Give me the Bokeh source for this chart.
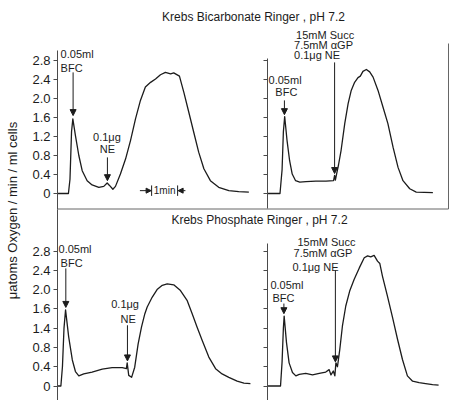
import math

from bokeh.plotting import figure
from bokeh.models import Range1d, LinearAxis, FixedTicker, Label, Arrow, NormalHead
from bokeh.embed import file_html
from bokeh.resources import INLINE

# ---- oxygen-uptake traces (time in min from start of each trace, rate in uatoms O2/min/ml cells)
# Krebs bicarbonate Ringer: BFC, then NE alone
bicarb_a_t = [0, 0.42, 0.48, 0.54, 0.59, 0.69, 0.82, 0.95, 1.14, 1.33, 1.59, 1.78, 1.91, 2.0,
              2.13, 2.23, 2.42, 2.62, 2.81, 3.0, 3.19, 3.38, 3.58, 3.77, 3.96, 4.15, 4.35, 4.47,
              4.69, 4.86, 5.05, 5.24, 5.43, 5.63, 5.88, 6.2, 6.59, 6.97, 7.36]
bicarb_a_v = [0, 0, 0.3, 1.3, 1.57, 1.22, 0.8, 0.48, 0.27, 0.18, 0.13, 0.15, 0.22, 0.17,
              0.09, 0.15, 0.41, 0.73, 1.12, 1.57, 1.96, 2.24, 2.34, 2.41, 2.5, 2.55, 2.52, 2.54,
              2.47, 2.13, 1.71, 1.29, 0.87, 0.52, 0.27, 0.13, 0.06, 0.04, 0.03]
# Krebs bicarbonate Ringer: BFC, then succinate + aGP + NE
bicarb_b_t = [0.02, 0.5, 0.58, 0.63, 0.68, 0.77, 0.87, 0.97, 1.1, 1.26, 1.5, 1.88, 2.27, 2.56,
              2.6, 2.63, 2.68, 2.75, 2.85, 2.99, 3.12, 3.24, 3.37, 3.5, 3.59, 3.69, 3.82, 3.95,
              4.08, 4.27, 4.46, 4.65, 4.85, 5.04, 5.23, 5.49, 5.74, 6.38]
bicarb_b_v = [0, 0, 0.5, 1.3, 1.62, 1.12, 0.69, 0.41, 0.27, 0.24, 0.25, 0.26, 0.26, 0.27,
              0.38, 0.28, 0.42, 0.6, 0.91, 1.47, 1.89, 2.17, 2.34, 2.44, 2.47, 2.57, 2.61, 2.56,
              2.45, 2.17, 1.82, 1.47, 0.97, 0.55, 0.27, 0.1, 0.03, 0.02]
# Krebs phosphate Ringer: BFC, then NE alone
phos_a_t = [0, 0.13, 0.19, 0.25, 0.31, 0.43, 0.57, 0.69, 0.82, 1.01, 1.33, 1.72, 2.1, 2.49,
            2.65, 2.68, 2.74, 2.85, 2.97, 3.1, 3.23, 3.36, 3.45, 3.64, 3.83, 4.03, 4.22, 4.47,
            4.73, 4.99, 5.18, 5.37, 5.57, 5.82, 6.08, 6.33, 6.59, 6.91, 7.17, 7.42]
phos_a_v = [0, 0, 0.4, 1.2, 1.58, 1.02, 0.54, 0.3, 0.21, 0.25, 0.29, 0.35, 0.38, 0.38,
            0.36, 0.48, 0.22, 0.18, 0.39, 0.87, 1.22, 1.5, 1.64, 1.84, 2.0, 2.09, 2.12, 2.1,
            1.98, 1.77, 1.5, 1.22, 0.94, 0.6, 0.36, 0.25, 0.18, 0.1, 0.06, 0.05]
# Krebs phosphate Ringer: BFC, then succinate + aGP + NE
phos_b_t = [0.02, 0.52, 0.58, 0.63, 0.66, 0.75, 0.85, 0.98, 1.11, 1.24, 1.49, 1.75, 2.01, 2.26,
            2.39, 2.46, 2.55, 2.61, 2.65, 2.71, 2.8, 2.9, 3.03, 3.18, 3.35, 3.55, 3.74, 3.87,
            3.99, 4.12, 4.25, 4.34, 4.44, 4.63, 4.83, 5.02, 5.21, 5.4, 5.6, 5.85, 6.1, 6.37, 6.6]
phos_b_v = [0, 0, 0.5, 1.2, 1.45, 0.9, 0.48, 0.28, 0.21, 0.24, 0.26, 0.23, 0.26, 0.29,
            0.34, 0.23, 0.31, 0.21, 0.48, 0.4, 0.76, 1.24, 1.66, 1.97, 2.21, 2.45, 2.66, 2.7,
            2.68, 2.71, 2.59, 2.54, 2.28, 1.87, 1.42, 0.97, 0.55, 0.21, 0.1, 0.07, 0.05, 0.03, 0.02]

# y ticks and their printed labels
rate_ticks = [0, 0.4, 0.8, 1.2, 1.6, 2.0, 2.4, 2.8]
bicarb_tick_labels = ["0", "0.4", "0.8", "1.2", "1.6", "2.0", "2.4", "2.8"]
phos_tick_labels = ["0", "0.4", "0.8", "1.4", "1.6", "2.0", "2.4", "2.8"]

titles = ["Krebs Bicarbonate Ringer , pH 7.2", "Krebs Phosphate Ringer , pH 7.2"]
y_title = "\u03bcatoms Oxygen / min / ml cells"

# ---- page layout (pixels)
W, H = 452, 400
PX_PER_MIN = 26.0
LEFT_X0, RIGHT_X0 = 57.0, 266.5       # column of each trace's start (its rate axis)
TOP_Y0, BOT_Y0 = 193.0, 385.5         # row of zero rate in each row of traces
TOP_PPU, BOT_PPU = 47.5, 48.2         # pixels per rate unit

FONT = "Liberation Sans"
INK = "#1c1c1c"
AXIS_INK = "#4a4a4a"


def time_range(x0):
    return Range1d(-x0 / PX_PER_MIN, (W - x0) / PX_PER_MIN)


def rate_range(y0, ppu):
    return Range1d(-(H - y0) / ppu, y0 / ppu)


p = figure(width=W, height=H, output_backend="svg", toolbar_location=None,
           x_axis_type=None, y_axis_type=None, min_border=0,
           x_range=Range1d(0, W), y_range=Range1d(0, H))
p.outline_line_color = None
p.background_fill_color = "white"
p.border_fill_color = "white"

p.extra_x_ranges = {"left": time_range(LEFT_X0), "right": time_range(RIGHT_X0)}
p.extra_y_ranges = {"top": rate_range(TOP_Y0, TOP_PPU), "bottom": rate_range(BOT_Y0, BOT_PPU)}


def rate_axis(xr, yr, labels, bounds):
    ax = LinearAxis(x_range_name=xr, y_range_name=yr, fixed_location=0,
                    ticker=FixedTicker(ticks=rate_ticks, minor_ticks=[]), bounds=bounds)
    ax.axis_line_color = AXIS_INK
    ax.axis_line_width = 1
    ax.major_tick_line_color = AXIS_INK
    ax.major_tick_out = 4
    ax.major_tick_in = 0
    ax.minor_tick_out = 0
    ax.minor_tick_in = 0
    ax.major_label_standoff = 3
    ax.major_label_text_font = FONT
    ax.major_label_text_font_size = "13px"
    ax.major_label_text_color = INK
    if labels is None:
        ax.major_label_text_color = None
    else:
        ax.major_label_overrides = dict(zip(rate_ticks, labels))
    p.add_layout(ax, "left")


def vrate(y_px, y0, ppu):
    return (y0 - y_px) / ppu


# left axis runs continuously through both rows
rate_axis("left", "top", bicarb_tick_labels, (vrate(209, TOP_Y0, TOP_PPU), vrate(50, TOP_Y0, TOP_PPU)))
rate_axis("left", "bottom", phos_tick_labels, (vrate(400, BOT_Y0, BOT_PPU), vrate(209, BOT_Y0, BOT_PPU)))
rate_axis("right", "top", None, (vrate(208, TOP_Y0, TOP_PPU), vrate(58, TOP_Y0, TOP_PPU)))
rate_axis("right", "bottom", None, (vrate(400, BOT_Y0, BOT_PPU), vrate(243, BOT_Y0, BOT_PPU)))

# divider between the two rows and right frame line of the upper row
div_v = vrate(208.5, TOP_Y0, TOP_PPU)
p.segment(x0=[0], y0=[div_v], x1=[(448 - LEFT_X0) / PX_PER_MIN], y1=[div_v],
          x_range_name="left", y_range_name="top", line_color="#666666", line_width=1)
edge_t = (448 - RIGHT_X0) / PX_PER_MIN
p.segment(x0=[edge_t], y0=[vrate(43, TOP_Y0, TOP_PPU)], x1=[edge_t], y1=[div_v],
          x_range_name="right", y_range_name="top", line_color="#666666", line_width=1)

# traces
for ts, vs, xr, yr in [(bicarb_a_t, bicarb_a_v, "left", "top"),
                       (bicarb_b_t, bicarb_b_v, "right", "top"),
                       (phos_a_t, phos_a_v, "left", "bottom"),
                       (phos_b_t, phos_b_v, "right", "bottom")]:
    p.line(ts, vs, x_range_name=xr, y_range_name=yr, line_color=INK, line_width=1.3,
           line_join="round")


def note(text, t, v, xr, yr, align="left", size="11px"):
    p.add_layout(Label(x=t, y=v, text=text, x_range_name=xr, y_range_name=yr,
                       text_align=align, text_baseline="middle", text_font=FONT,
                       text_font_size=size, text_color=INK))


def pointer(t0, v0, t1, v1, xr, yr, head=6):
    p.add_layout(Arrow(x_start=t0, y_start=v0, x_end=t1, y_end=v1,
                       x_range_name=xr, y_range_name=yr, line_color=INK, line_width=1,
                       end=NormalHead(size=head, fill_color=INK, line_color=INK, line_width=1)))


# upper left: BFC then NE
note("0.05ml", 0.12, 2.93, "left", "top")
note("BFC", 0.12, 2.65, "left", "top")
pointer(0.6, 2.55, 0.6, 1.64, "left", "top")
note("0.1\u03bcg", 1.9, 1.2, "left", "top", align="center")
note("NE", 1.92, 0.93, "left", "top", align="center")
pointer(1.92, 0.76, 1.92, 0.27, "left", "top")

# one-minute scale bar with inward arrows
bar_t0, bar_v = 3.62, 0.06
p.segment(x0=[bar_t0, bar_t0 + 1], y0=[bar_v - 0.11, bar_v - 0.11],
          x1=[bar_t0, bar_t0 + 1], y1=[bar_v + 0.11, bar_v + 0.11],
          x_range_name="left", y_range_name="top", line_color=INK, line_width=1)
note("1min", bar_t0 + 0.5, bar_v, "left", "top", align="center", size="10px")
pointer(bar_t0 - 0.45, bar_v, bar_t0 - 0.02, bar_v, "left", "top", head=5)
pointer(bar_t0 + 1.3, bar_v, bar_t0 + 1.02, bar_v, "left", "top", head=5)

# upper right: BFC then succinate + aGP + NE
note("15mM Succ", 1.12, 3.33, "right", "top")
note("7.5mM \u03b1GP", 1.04, 3.12, "right", "top")
note("0.1\u03bcg NE", 1.04, 2.91, "right", "top")
pointer(2.6, 2.76, 2.6, 0.42, "right", "top")
note("0.05ml", 0.06, 2.40, "right", "top")
note("BFC", 0.32, 2.13, "right", "top")
pointer(0.67, 1.96, 0.67, 1.66, "right", "top")

# lower left: BFC then NE
note("0.05ml", 0.04, 2.85, "left", "bottom")
note("BFC", 0.12, 2.56, "left", "bottom")
pointer(0.32, 2.44, 0.32, 1.63, "left", "bottom")
note("0.1\u03bcg", 2.6, 1.71, "left", "bottom", align="center")
note("NE", 2.72, 1.40, "left", "bottom", align="center")
pointer(2.69, 1.26, 2.69, 0.52, "left", "bottom")

# lower right: BFC then succinate + aGP + NE
note("15mM Succ", 1.17, 2.98, "right", "bottom")
note("7.5mM \u03b1GP", 1.02, 2.75, "right", "bottom")
note("0.1\u03bcg NE", 0.98, 2.46, "right", "bottom")
pointer(2.63, 2.40, 2.63, 0.5, "right", "bottom")
note("0.05ml", 0.13, 2.09, "right", "bottom")
note("BFC", 0.21, 1.82, "right", "bottom")
pointer(0.65, 1.71, 0.65, 1.5, "right", "bottom")

# row titles and the shared rate title
p.add_layout(Label(x=253, y=H - 16, x_units="screen", y_units="screen", text=titles[0],
                   text_align="center", text_baseline="middle", text_font=FONT,
                   text_font_size="12px", text_color=INK))
p.add_layout(Label(x=259, y=H - 219, x_units="screen", y_units="screen", text=titles[1],
                   text_align="center", text_baseline="middle", text_font=FONT,
                   text_font_size="12px", text_color=INK))
p.add_layout(Label(x=12, y=H - 210, x_units="screen", y_units="screen", text=y_title,
                   angle=math.pi / 2, text_align="center", text_baseline="middle",
                   text_font=FONT, text_font_size="13px", text_color=INK))

open("out.html", "w").write(file_html(p, INLINE))
